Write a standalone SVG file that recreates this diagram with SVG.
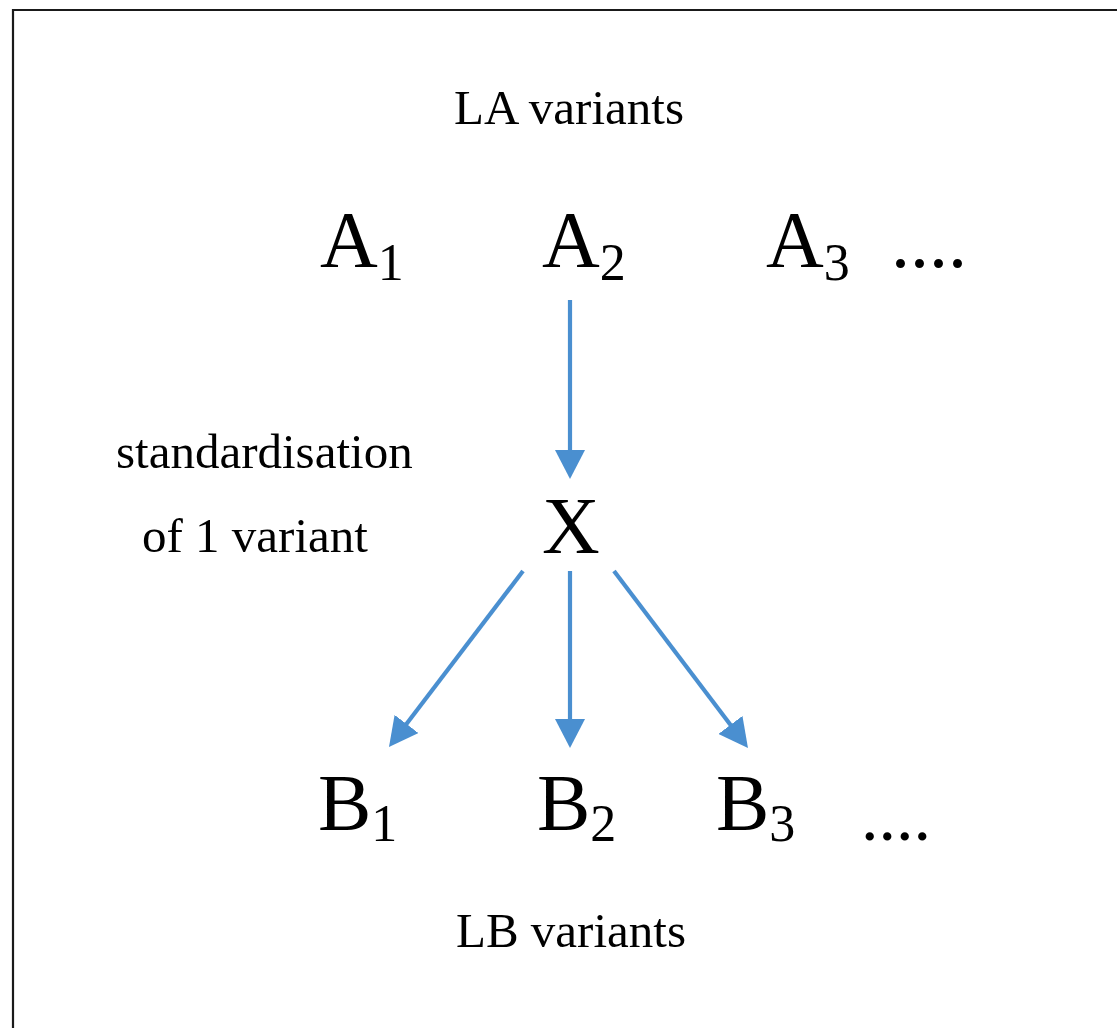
<svg xmlns="http://www.w3.org/2000/svg" width="1117" height="1028" viewBox="0 0 1117 1028">
  <style>
    .t { font-family: "Liberation Serif", "Times New Roman", serif; fill: #000; }
    .lab { font-size: 49px; }
    .big { font-size: 80px; }
    .sub { font-size: 52px; }
    .dots { font-size: 76px; }
    .dots2 { font-size: 70px; }
    .conn { stroke: #4a8fd0; stroke-width: 4.2; fill: none; marker-end: url(#arr); }
    .frame { stroke: #1a1a1a; stroke-width: 2.2; fill: none; }
  </style>
  <defs>
    <marker id="arr" markerUnits="userSpaceOnUse" markerWidth="30" markerHeight="30" refX="9" refY="15" orient="auto" viewBox="0 0 30 30">
      <path d="M0,0 L29,15 L0,30 z" fill="#4a8fd0"/>
    </marker>
  </defs>
  <rect x="0" y="0" width="1117" height="1028" fill="#fff"/>
  <g id="frame">
    <path class="frame" d="M13,1028 L13,10 L1117,10"/>
  </g>
  <g id="la-label"><text class="t lab" x="454" y="124">LA variants</text></g>
  <g id="A1"><text class="t big" x="320" y="267">A<tspan class="sub" dy="13">1</tspan></text></g>
  <g id="A2"><text class="t big" x="542" y="267">A<tspan class="sub" dy="13">2</tspan></text></g>
  <g id="A3"><text class="t big" x="766" y="267">A<tspan class="sub" dy="13">3</tspan></text></g>
  <g id="A-more"><text class="t dots" x="891" y="267">....</text></g>
  <g id="std-label">
    <text class="t lab" x="116" y="468">standardisation</text>
    <text class="t lab" x="142" y="552">of 1 variant</text>
  </g>
  <g id="X"><text class="t big" x="571" y="553" text-anchor="middle">X</text></g>
  <g id="B1"><text class="t big" x="318" y="830">B<tspan class="sub" dy="11">1</tspan></text></g>
  <g id="B2"><text class="t big" x="537" y="830">B<tspan class="sub" dy="11">2</tspan></text></g>
  <g id="B3"><text class="t big" x="716" y="830">B<tspan class="sub" dy="11">3</tspan></text></g>
  <g id="B-more"><text class="t dots2" x="861" y="840">....</text></g>
  <g id="lb-label"><text class="t lab" x="456" y="947">LB variants</text></g>
  <g id="connectors">
    <path class="conn" d="M570,300 L570,459"/>
    <path class="conn" d="M523,571 L401.1,731.1"/>
    <path class="conn" d="M570,571 L570,728"/>
    <path class="conn" d="M614,571 L735.9,732.1"/>
  </g>
</svg>
